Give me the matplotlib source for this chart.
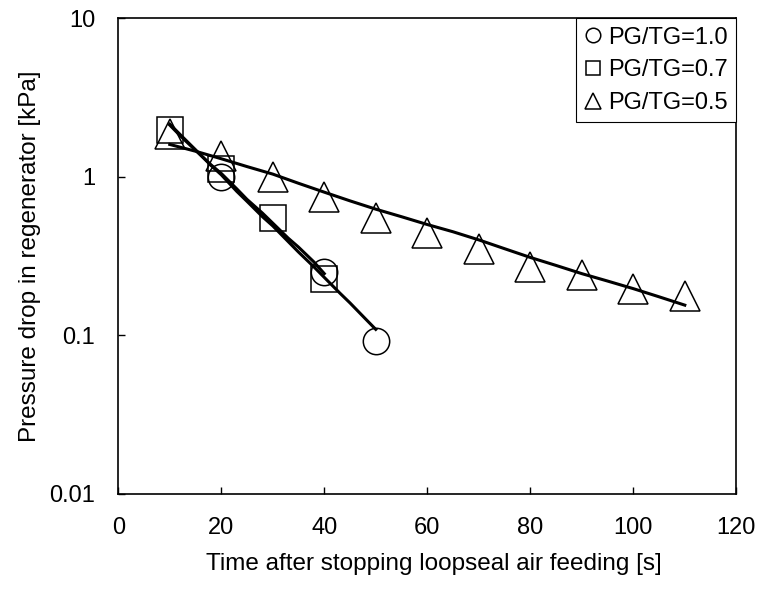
import matplotlib.pyplot as plt

plt.rcParams['font.family'] = ['Liberation Sans', 'DejaVu Sans']

# measured points
t_pg10 = [20, 40, 50]
dp_pg10 = [1.0, 0.25, 0.092]
t_pg07 = [10, 20, 30, 40]
dp_pg07 = [1.98, 1.12, 0.55, 0.225]
t_pg05 = [10, 20, 30, 40, 50, 60, 70, 80, 90, 100, 110]
dp_pg05 = [1.85, 1.36, 1.0, 0.75, 0.55, 0.44, 0.35, 0.27, 0.24, 0.195, 0.177]

# recorded pressure traces
tl_pg10 = [10, 12, 15, 18, 20, 23, 25, 28, 30, 33, 35, 38, 40, 43, 45, 48, 50]
pl_pg10 = [2.15, 1.85, 1.48, 1.18, 1.03, 0.81, 0.70, 0.56, 0.49, 0.39, 0.335, 0.27, 0.232, 0.185, 0.16, 0.127, 0.109]
tl_pg07 = [10, 12, 15, 18, 20, 23, 25, 28, 30, 33, 35, 38, 40]
pl_pg07 = [2.12, 1.82, 1.47, 1.19, 1.05, 0.84, 0.72, 0.59, 0.51, 0.41, 0.36, 0.29, 0.245]
tl_pg05 = [10, 15, 20, 25, 30, 35, 40, 45, 50, 55, 60, 65, 70, 75, 80, 85, 90, 95, 100, 105, 110]
pl_pg05 = [1.60, 1.45, 1.30, 1.16, 1.04, 0.91, 0.80, 0.705, 0.625, 0.56, 0.50, 0.45, 0.40, 0.352, 0.31, 0.276, 0.245, 0.22, 0.197, 0.175, 0.155]

fig = plt.figure(figsize=(7.63, 5.90), dpi=100)
ax = fig.add_axes([0.155, 0.163, 0.81, 0.806])

ax.plot(tl_pg10, pl_pg10, color='black', lw=2.2)
ax.plot(tl_pg07, pl_pg07, color='black', lw=2.2)
ax.plot(tl_pg05, pl_pg05, color='black', lw=2.2)

ax.plot(t_pg10, dp_pg10, 'o', ms=19, mfc='none', mec='black', mew=1.1, label='PG/TG=1.0')
ax.plot(t_pg07, dp_pg07, 's', ms=19, mfc='none', mec='black', mew=1.1, label='PG/TG=0.7')
ax.plot(t_pg05, dp_pg05, '^', ms=21, mfc='none', mec='black', mew=1.1, label='PG/TG=0.5')

ax.set_yscale('log')
ax.set_xlim(0, 120)
ax.set_ylim(0.01, 10)
ax.set_xticks([0, 20, 40, 60, 80, 100, 120])
ax.set_yticks([0.01, 0.1, 1, 10])
ax.set_yticklabels(['0.01', '0.1', '1', '10'])
ax.minorticks_off()
ax.tick_params(direction='in', length=5, width=1, labelsize=17)
ax.tick_params(axis='x', pad=17)
ax.tick_params(axis='y', pad=16.5)
for s in ax.spines.values():
    s.set_linewidth(1.2)

ax.set_xlabel('Time after stopping loopseal air feeding [s]', fontsize=17.5)
ax.xaxis.set_label_coords(0.51, -0.125)
ax.set_ylabel('Pressure drop in regenerator [kPa]', fontsize=17.5, labelpad=6)

leg = ax.legend(loc='upper right', fontsize=17, markerscale=0.55, handlelength=0.7,
                handletextpad=0.3, borderpad=0.35, labelspacing=0.45, borderaxespad=0.0,
                fancybox=False, framealpha=1, edgecolor='black')
leg.get_frame().set_linewidth(0.8)

fig.savefig('out.png', dpi=100)
